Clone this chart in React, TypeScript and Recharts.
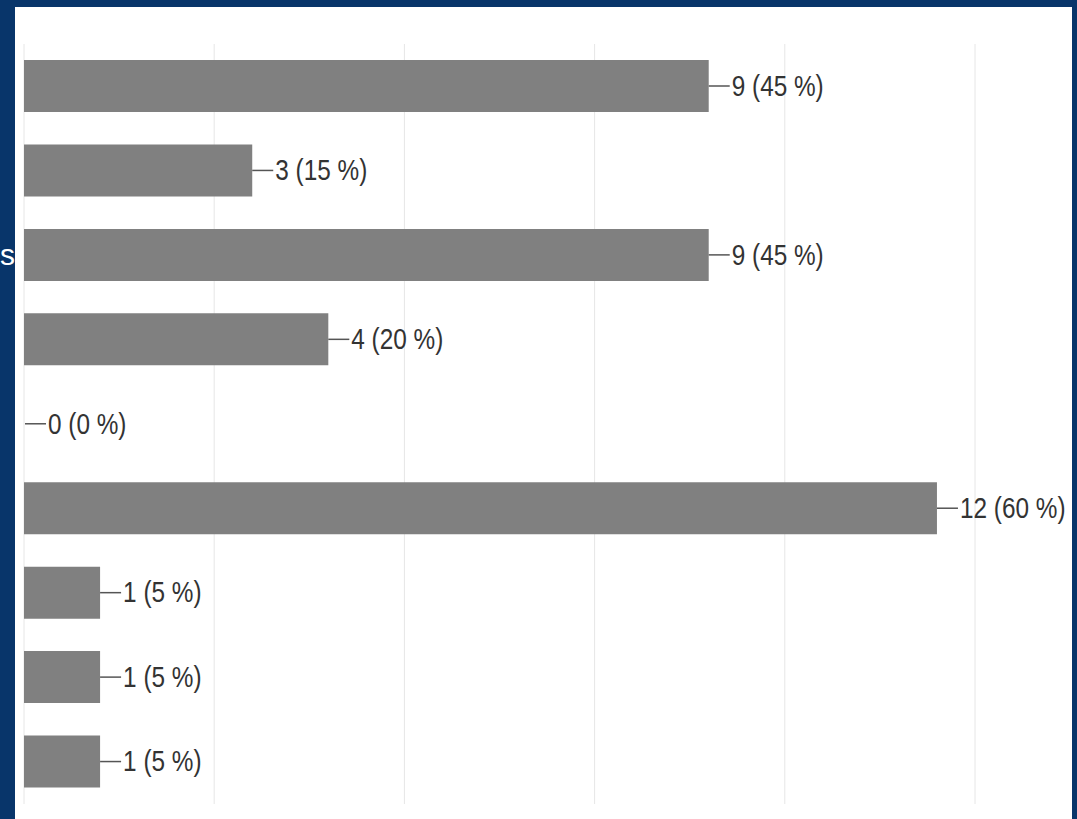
import React from 'react';
import { BarChart, Bar, XAxis, YAxis, CartesianGrid, LabelList, Cell } from 'recharts';

// category names are cut off in the source, only their ends are hidden behind the frame
const categories = ['Réponse 1', 'Réponse 2', 'Réponse 3', 'Réponse 4', 'Réponse 5', 'Réponse 6', 'Réponse 7', 'Réponse 8', 'Réponse 9'];
const counts = [9, 3, 9, 4, 0, 12, 1, 1, 1];
const percents = [45, 15, 45, 20, 0, 60, 5, 5, 5];
const xTicks = [0, 2.5, 5, 7.5, 10, 12.5];

const data = categories.map((name, i) => ({
  name,
  count: counts[i],
  label: `${counts[i]} (${percents[i]} %)`,
}));

const renderLabel = (props: any) => {
  const { x, y, width, height, value } = props;
  const ex = Number(x) + Number(width);
  const cy = Number(y) + Number(height) / 2;
  return (
    <g>
      <line x1={ex} y1={cy} x2={ex + 21} y2={cy} stroke="#555" strokeWidth={1.5} />
      <text
        transform={`translate(${ex + 23},${cy}) scale(0.84,1)`}
        dominantBaseline="central"
        fontSize={29}
        fill="#333"
        fontFamily="'Liberation Sans', Arial, sans-serif"
      >
        {value}
      </text>
    </g>
  );
};

export default function App() {
  return (
    <div style={{ position: 'absolute', left: 0, top: 0, width: 1077, height: 819, background: '#08356a', overflow: 'hidden' }}>
      <div style={{ position: 'absolute', left: 0, top: 238, color: '#fff', fontFamily: "'Liberation Sans', Arial, sans-serif", fontSize: 30 }}>s</div>
      <div style={{ position: 'absolute', left: 15, top: 7, width: 1057, height: 812, background: '#fff' }}>
        <BarChart
          width={1057}
          height={812}
          data={data}
          layout="vertical"
          margin={{ top: 37, right: 97, bottom: 15, left: 9 }}
        >
          <CartesianGrid horizontal={false} stroke="#e6e6e6" verticalValues={xTicks} />
          <XAxis type="number" domain={[0, 12.5]} ticks={xTicks} hide />
          <YAxis type="category" dataKey="name" width={0} tick={false} tickLine={false} axisLine={{ stroke: '#555', strokeWidth: 2 }} />
          <Bar dataKey="count" fill="#808080" barSize={52} minPointSize={1} isAnimationActive={false}>
            {data.map((d, i) => (
              <Cell key={`c-${i}`} fill={d.count === 0 ? 'transparent' : '#808080'} />
            ))}
            <LabelList dataKey="label" content={renderLabel} />
          </Bar>
        </BarChart>
      </div>
    </div>
  );
}
